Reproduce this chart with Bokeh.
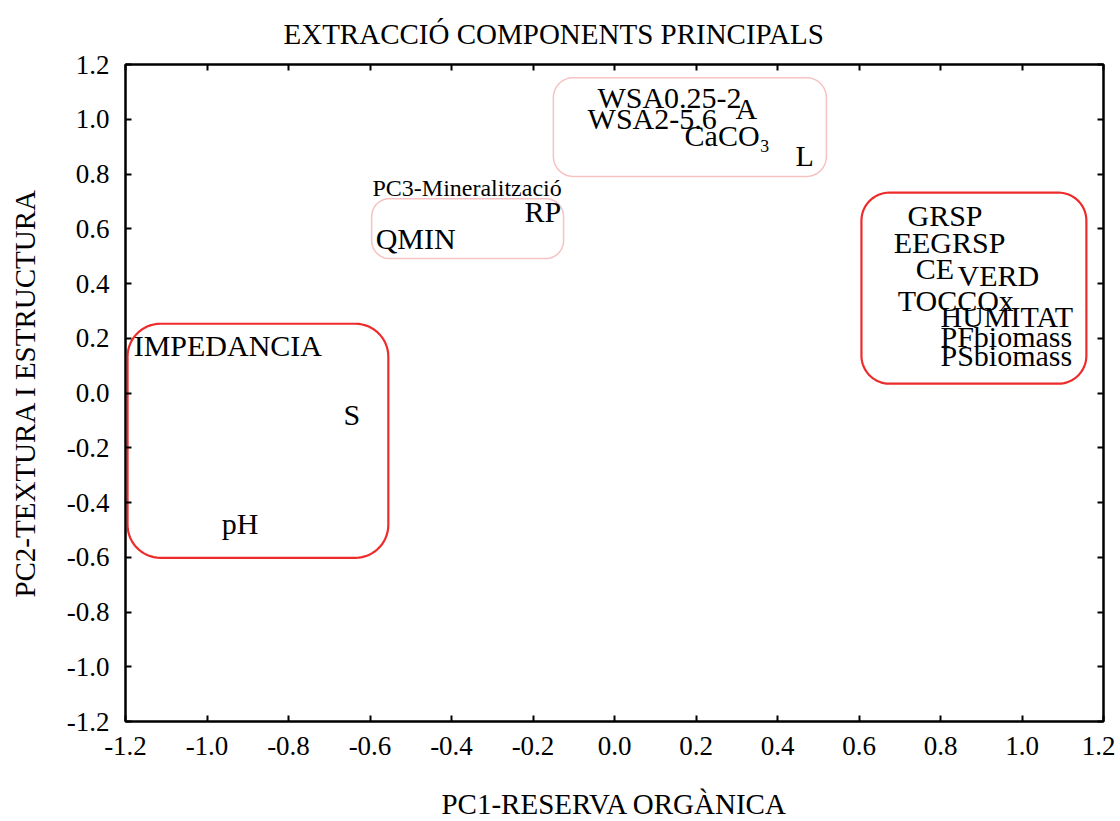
import numpy as np
from bokeh.plotting import figure
from bokeh.models import (ColumnDataSource, FixedTicker, LinearAxis, Range1d,
                          PrintfTickFormatter, CustomJSTickFormatter, Title)
from bokeh.core.properties import value
from bokeh.embed import file_html
from bokeh.resources import INLINE

# ---------------- data ----------------
labels = ["WSA0.25-2", "A", "WSA2-5.6", "CaCO\u2083", "L",
          "RP", "QMIN",
          "GRSP", "EEGRSP", "CE", "VERD", "TOCCOx", "HUMITAT", "PFbiomass", "PSbiomass",
          "IMPEDANCIA", "S", "pH"]
pc1 = [-0.042, 0.297, -0.066, 0.172, 0.444,
       -0.221, -0.586,
       0.719, 0.685, 0.739, 0.842, 0.695, 0.800, 0.800, 0.800,
       -1.180, -0.665, -0.964]
pc2 = [1.079, 1.039, 1.003, 0.940, 0.867,
       0.663, 0.564,
       0.648, 0.549, 0.454, 0.429, 0.337, 0.279, 0.206, 0.136,
       0.173, -0.080, -0.478]

group_note = ["PC3-Mineralització"]
group_note_x = [-0.594]
group_note_y = [0.750]

# cluster boxes: left, right, bottom, top (data units)
box_left = [-0.150, -0.596, 0.606, -1.195]
box_right = [0.520, -0.125, 1.158, -0.555]
box_bottom = [0.791, 0.491, 0.034, -0.602]
box_top = [1.152, 0.710, 0.732, 0.253]

ticks = [-1.2, -1.0, -0.8, -0.6, -0.4, -0.2, 0.0, 0.2, 0.4, 0.6, 0.8, 1.0, 1.2]

# ---------------- styling ----------------
FONT = "Liberation Serif"
FW, FH = 978, 657
box_colors = ["#f6c2c2", "#f6c2c2", "#ee2b2b", "#ee2b2b"]
box_widths = [1.5, 1.5, 2.2, 2.2]
box_radius_px = [20, 18, 28, 33]

p = figure(frame_width=FW, frame_height=FH,
           x_range=Range1d(-1.2, 1.2), y_range=Range1d(-1.2, 1.2),
           output_backend="svg", toolbar_location=None,
           min_border_left=125, min_border_top=64, min_border_right=12,
           min_border_bottom=88, background_fill_color="white",
           border_fill_color="white")
p.xgrid.visible = False
p.ygrid.visible = False
p.outline_line_color = "black"
p.outline_line_width = 2

p.title = Title(text="EXTRACCIÓ COMPONENTS PRINCIPALS", align="left", offset=158,
                text_font=FONT, text_font_size="29px", text_font_style="normal",
                text_color="black", standoff=29)

def style_axis(ax, show_labels=True):
    ax.ticker = FixedTicker(ticks=ticks)
    if show_labels:
        ax.formatter = PrintfTickFormatter(format="%.1f")
    else:
        ax.formatter = CustomJSTickFormatter(code="return ''")
    ax.axis_line_color = "black"
    ax.axis_line_width = 2
    ax.major_tick_in = 6
    ax.major_tick_out = 0
    ax.major_tick_line_width = 2
    ax.major_tick_line_color = "black"
    ax.minor_tick_line_color = None
    ax.major_label_text_font = FONT
    ax.major_label_text_font_size = "27px"
    ax.major_label_text_color = "black"
    ax.axis_label_text_font = FONT
    ax.axis_label_text_font_size = "29px"
    ax.axis_label_text_font_style = "normal"
    ax.axis_label_text_color = "black"

style_axis(p.xaxis[0])
style_axis(p.yaxis[0])
p.xaxis[0].axis_label = "PC1-RESERVA ORGÀNICA"
p.yaxis[0].axis_label = "PC2-TEXTURA I ESTRUCTURA"
p.xaxis[0].major_label_standoff = 15
p.yaxis[0].major_label_standoff = 16
p.xaxis[0].axis_label_standoff = 30
p.yaxis[0].axis_label_standoff = 23

top_ax = LinearAxis()
right_ax = LinearAxis()
style_axis(top_ax, False)
style_axis(right_ax, False)
top_ax.major_label_standoff = 0
right_ax.major_label_standoff = 0
p.add_layout(top_ax, "above")
p.add_layout(right_ax, "right")

# rounded boxes
sx = FW / 2.4
sy = FH / 2.4

def rounded(l, r, b, t, rad):
    rx, ry = rad / sx, rad / sy
    xs, ys = [], []
    corners = [(r - rx, t - ry, 0), (l + rx, t - ry, 90), (l + rx, b + ry, 180), (r - rx, b + ry, 270)]
    for cx, cy, a0 in corners:
        ang = np.radians(np.linspace(a0, a0 + 90, 16))
        xs.extend(cx + rx * np.cos(ang))
        ys.extend(cy + ry * np.sin(ang))
    xs.append(xs[0]); ys.append(ys[0])
    return list(xs), list(ys)

bx, by = [], []
for l, r, b, t, rad in zip(box_left, box_right, box_bottom, box_top, box_radius_px):
    xx, yy = rounded(l, r, b, t, rad)
    bx.append(xx); by.append(yy)
p.patches(xs=bx, ys=by, fill_color=None, line_color=box_colors, line_width=box_widths)

src = ColumnDataSource(dict(x=pc1, y=pc2, t=labels))
p.text(x="x", y="y", text="t", source=src, text_font=value(FONT),
       text_font_size="30px", text_align="left", text_baseline="middle",
       text_color="black")
p.text(x=group_note_x, y=group_note_y, text=group_note, text_font=value(FONT),
       text_font_size="24px", text_align="left", text_baseline="middle",
       text_color="black")

open("out.html", "w").write(file_html(p, INLINE))
